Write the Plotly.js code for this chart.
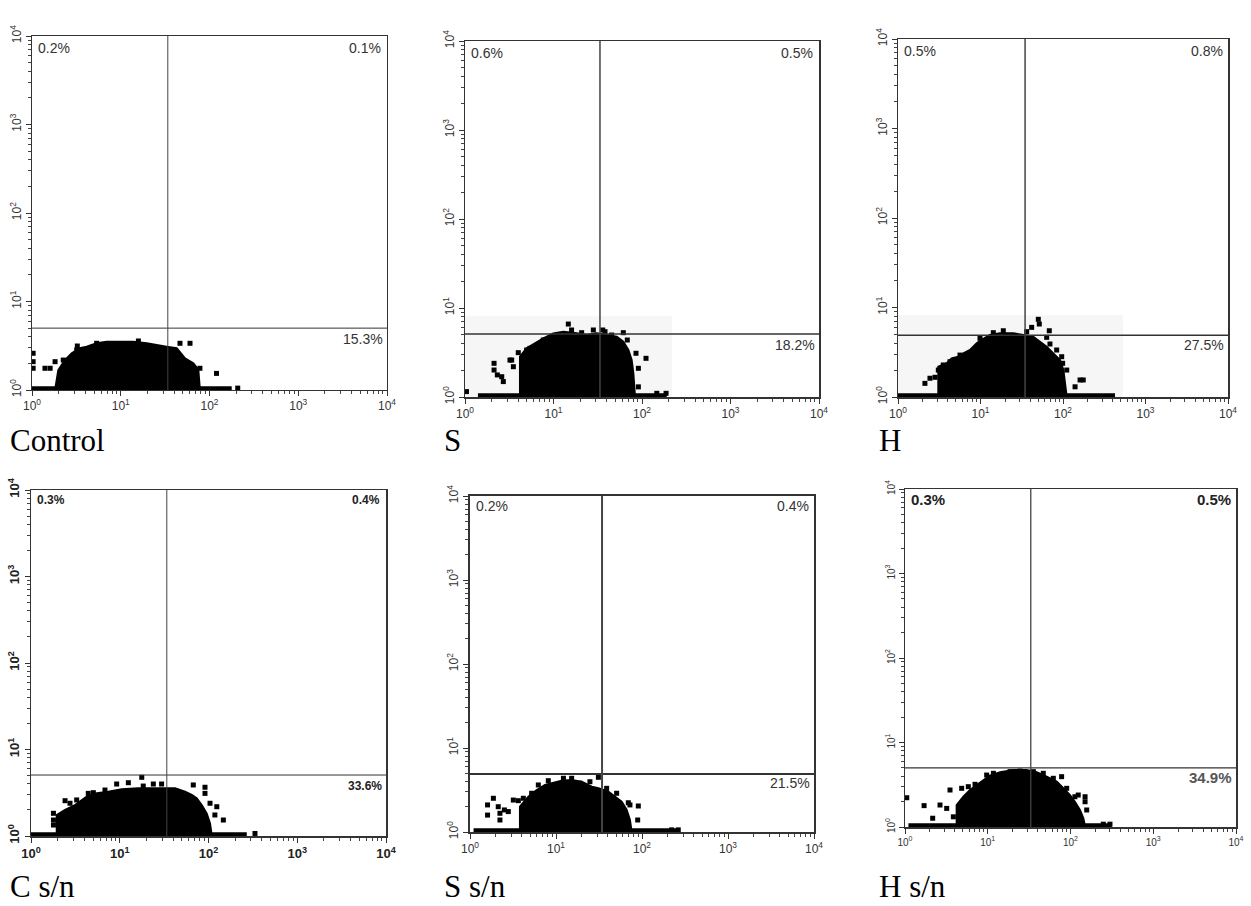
<!DOCTYPE html>
<html><head><meta charset="utf-8">
<script src="https://cdn.plot.ly/plotly-3.0.1.min.js"></script>
<style>html,body{margin:0;padding:0;background:#fff;}#chart{width:1251px;height:906px;}</style>
</head><body><div id="chart"></div>
<script>
// ---------- data ----------
const panelNames = ["Control", "S", "H", "C s/n", "S s/n", "H s/n"];
const labelUL = ["0.2%", "0.6%", "0.5%", "0.3%", "0.2%", "0.3%"];
const labelUR = ["0.1%", "0.5%", "0.8%", "0.4%", "0.4%", "0.5%"];
const labelLR = ["15.3%", "18.2%", "27.5%", "33.6%", "21.5%", "34.9%"];
const gateX = [33.9, 33.5, 34.7, 33.9, 34.3, 33.1];
const gateY = [5.0, 5.1, 4.9, 5.07, 4.9, 5.0];
const baseStartX = [1, 1.4, 1, 1, 1.1, 1.1];
const baseEndX = [178, 190, 427, 270, 277, 314];
const tickVals = [1, 10, 100, 1000, 10000];
const tickText = ["10<sup>0</sup>", "10<sup>1</sup>", "10<sup>2</sup>", "10<sup>3</sup>", "10<sup>4</sup>"];

// light background box visible in panels S and H (x end, y top); null = none
const boxEndX = [null, 218, 533, null, null, null];
const boxTopY = [null, 8.1, 8.2, null, null, null];

// dense event cloud: upper envelope
const ctrlEnvX = [1.82, 1.98, 2.35, 2.8, 3.47, 4.13, 5.35, 6.94, 9.8, 13.8, 19.6, 27.7, 32.9, 42.7, 53, 65.7, 74.8, 78];
const ctrlEnvY = [1.0, 1.68, 2.18, 2.6, 2.96, 3.09, 3.37, 3.52, 3.52, 3.52, 3.37, 3.22, 3.09, 2.96, 2.28, 2.0, 1.7, 1.0];
const sEnvX = [4.18, 4.18, 4.97, 6.18, 7.67, 9.95, 12.9, 18.3, 23.7, 30.8, 39.9, 51.8, 61.5, 70.1, 76.4, 79.8, 83.4];
const sEnvY = [1.0, 2.84, 3.52, 4.01, 4.56, 5.19, 5.42, 5.19, 4.97, 5.19, 4.97, 4.77, 4.19, 3.37, 2.6, 1.85, 1.0];
const hEnvX = [3.08, 3.08, 3.89, 4.47, 5.38, 6.19, 7.46, 8.99, 10.3, 13.0, 17.2, 25, 33, 43.6, 52.6, 63.4, 76.3, 92, 101, 106, 111];
const hEnvY = [1.0, 2.18, 2.38, 2.7, 2.82, 3.07, 3.35, 3.98, 4.34, 4.93, 5.15, 5.15, 4.93, 4.72, 4.15, 3.65, 3.07, 2.59, 2.0, 1.42, 1.0];
const csnEnvX = [1.95, 1.95, 2.42, 3.13, 4.24, 5.26, 7.43, 10.5, 16.2, 27.2, 42, 54.4, 64.7, 73.6, 83.8, 95.4, 104, 109];
const csnEnvY = [1.0, 1.75, 2.0, 2.28, 2.85, 3.11, 3.25, 3.47, 3.56, 3.56, 3.56, 3.25, 2.98, 2.73, 2.28, 1.83, 1.4, 1.0];
const ssnEnvX = [3.81, 3.81, 4.77, 5.96, 7.45, 9.3, 11.6, 15.2, 19.9, 26, 31.1, 40.6, 48.5, 58, 66.4, 72.4, 75.8];
const ssnEnvY = [1.0, 2.0, 2.63, 3.16, 3.63, 3.86, 4.08, 4.16, 3.97, 3.46, 3.31, 3.02, 2.63, 2.3, 1.83, 1.39, 1.0];
const hsnEnvX = [4.21, 4.21, 5.07, 6.1, 7.35, 8.84, 10.6, 14.1, 20.4, 29.5, 39, 51.5, 68.1, 81.9, 98.6, 113, 130, 143, 150];
const hsnEnvY = [1.0, 1.82, 2.28, 2.74, 3.14, 3.6, 4.05, 4.44, 4.73, 4.73, 4.44, 3.94, 3.44, 2.87, 2.39, 1.99, 1.59, 1.27, 1.0];

// scattered single events around the cloud
const ctrlDotX = [1.03, 1.03, 1.03, 1.40, 1.6, 1.82, 2.25, 3.19, 3.24, 5.35, 15.8, 46.5, 60.3, 78, 120, 208];
const ctrlDotY = [2.6, 2.09, 1.76, 1.76, 1.76, 2.09, 2.18, 2.83, 3.14, 3.37, 3.58, 3.37, 3.37, 1.76, 1.54, 1.05];
const sDotX = [2.13, 2.13, 2.32, 2.6, 2.71, 3.22, 3.37, 3.52, 4.0, 4.97, 5.42, 6.73, 7.67, 14.7, 16.0, 20.8, 28.2, 36, 38.2, 45.4, 61.5, 68.2, 85.5, 91, 111, 91, 1.04, 147, 187];
const sDotY = [2.39, 2.01, 1.77, 1.69, 1.49, 2.6, 2.6, 2.19, 3.15, 3.37, 3.52, 3.67, 4.37, 6.6, 5.66, 5.28, 5.66, 5.66, 5.42, 4.97, 5.28, 4.37, 3.1, 2.1, 2.72, 1.3, 1.15, 1.1, 1.1];
const hDotX = [2.12, 2.44, 2.81, 3.08, 3.54, 4.27, 4.91, 5.64, 9.86, 14.3, 18.9, 36.3, 41.7, 50.2, 51.6, 68.2, 63.4, 69.5, 83.8, 96.4, 99, 111, 140, 161, 176];
const hDotY = [1.42, 1.62, 1.66, 2.0, 2.28, 2.48, 2.59, 2.94, 4.53, 5.23, 5.5, 5.37, 6.0, 7.38, 6.54, 5.5, 4.64, 3.91, 3.35, 2.82, 2.38, 2.0, 1.3, 1.55, 1.55];
const csnDotX = [1.79, 1.79, 1.79, 2.03, 2.42, 2.75, 3.27, 4.42, 5.04, 6.82, 9.23, 12.5, 17.7, 18.4, 23.9, 29.6, 67.4, 91.3, 91.3, 104, 124, 147, 118, 334];
const csnDotY = [1.83, 1.53, 1.34, 1.34, 2.56, 2.39, 2.61, 3.11, 3.17, 3.4, 3.99, 4.13, 4.77, 3.78, 3.99, 3.99, 3.89, 3.66, 3.11, 2.39, 2.18, 1.53, 1.75, 1.07];
const ssnDotX = [1.6, 1.6, 1.87, 2.13, 2.23, 2.23, 2.51, 2.79, 3.19, 3.65, 4.17, 5.21, 6.23, 8.14, 8.91, 12.2, 15.2, 19, 24.8, 31.1, 38.8, 50.7, 69.3, 72.4, 90.6, 89.1, 221, 264];
const ssnDotY = [2.1, 1.59, 2.52, 2.0, 1.67, 1.39, 1.83, 1.75, 2.4, 2.36, 2.52, 2.89, 3.63, 4.08, 3.46, 4.36, 4.36, 3.8, 3.97, 4.48, 3.31, 2.89, 2.23, 2.1, 2.04, 1.39, 1.06, 1.06];
const hsnDotX = [1.05, 1.7, 2.16, 2.65, 3.19, 3.5, 3.84, 4.84, 5.82, 7.02, 9.7, 11.7, 18.6, 24.5, 35.6, 46.9, 62, 78.1, 89.9, 113, 124, 150, 150, 157, 249, 300];
const hsnDotY = [2.22, 1.79, 1.27, 1.82, 1.66, 2.74, 1.32, 2.87, 3.0, 3.2, 4.12, 4.32, 4.52, 4.6, 4.52, 4.32, 3.77, 3.94, 2.87, 2.28, 2.39, 2.28, 1.99, 1.59, 1.08, 1.08];

// ---------- layout / styling ----------
const W = 1251, H = 906;
const envXs = [ctrlEnvX, sEnvX, hEnvX, csnEnvX, ssnEnvX, hsnEnvX];
const envYs = [ctrlEnvY, sEnvY, hEnvY, csnEnvY, ssnEnvY, hsnEnvY];
const dotXs = [ctrlDotX, sDotX, hDotX, csnDotX, ssnDotX, hsnDotX];
const dotYs = [ctrlDotY, sDotY, hDotY, csnDotY, ssnDotY, hsnDotY];

// pixel frames [left, top, right, bottom]
const frames = [[32, 36, 387, 390], [465, 41, 819, 397], [898, 39, 1228, 397],
                [31, 490, 386, 836], [470, 496, 814, 832], [905, 489, 1236, 827]];
const titlePos = [[8, 440], [442, 440], [877, 440], [8, 886], [442, 886], [877, 886]];
const tickFont = [
  {size: 12, weight: 'normal', color: '#333'}, {size: 12, weight: 'normal', color: '#333'},
  {size: 12, weight: 'normal', color: '#333'}, {size: 13, weight: 'bold', color: '#222'},
  {size: 12, weight: 'normal', color: '#333'}, {size: 10, weight: 'normal', color: '#333'}];
const pctFont = [
  {size: 14, weight: 'normal', color: '#333'}, {size: 14, weight: 'normal', color: '#333'},
  {size: 14, weight: 'normal', color: '#333'}, {size: 12, weight: 'bold', color: '#222'},
  {size: 14, weight: 'normal', color: '#333'}, {size: 15, weight: 'bold', color: '#222'}];
const lrFont = [null, null, null, null, null, {size: 15, weight: 'bold', color: '#555'}];
const frameWidth = [1, 1.5, 1.5, 1.5, 2, 1.5];
const gateWidth = [1, 1.5, 1.5, 1, 2, 1.3];

const minorVals = [];
for (let e = 0; e < 4; e++) for (let m = 2; m <= 9; m++) minorVals.push(m * Math.pow(10, e));

const traces = [];
const layout = {
  width: W, height: H, margin: {l: 0, r: 0, t: 0, b: 0},
  paper_bgcolor: '#fff', plot_bgcolor: 'rgba(0,0,0,0)', showlegend: false,
  font: {family: 'Liberation Sans, Arial, sans-serif', color: '#333'},
  annotations: []
};

for (let i = 0; i < 6; i++) {
  const n = i === 0 ? '' : String(i + 1);
  const xa = 'x' + n, ya = 'y' + n;
  const f = frames[i];
  const axBase = {
    type: 'log', range: [0, 4], showgrid: false, zeroline: false,
    showline: true, mirror: true, linecolor: '#333', linewidth: frameWidth[i],
    ticks: 'outside', ticklen: 5, tickcolor: '#333', tickwidth: 1,
    tickmode: 'array', tickvals: tickVals, ticktext: tickText,
    tickfont: Object.assign({family: 'Liberation Sans, Arial, sans-serif'}, tickFont[i]),
    minor: {tickmode: 'array', tickvals: minorVals, ticks: 'outside', ticklen: 3, tickcolor: '#444', tickwidth: 1, showgrid: false},
    fixedrange: true
  };
  layout['xaxis' + n] = Object.assign({}, axBase, {
    domain: [f[0] / W, f[2] / W], anchor: ya, tickangle: 0
  });
  layout['yaxis' + n] = Object.assign({}, axBase, {
    domain: [1 - f[3] / H, 1 - f[1] / H], anchor: xa, tickangle: -90
  });

  if (boxEndX[i] !== null) {
    traces.push({x: [1, boxEndX[i], boxEndX[i], 1], y: [1, 1, boxTopY[i], boxTopY[i]],
      xaxis: xa, yaxis: ya, mode: 'lines', fill: 'toself', fillcolor: '#f6f6f6',
      line: {width: 0, color: 'rgba(0,0,0,0)'}, hoverinfo: 'skip'});
  }
  traces.push({x: envXs[i], y: envYs[i], xaxis: xa, yaxis: ya, mode: 'lines',
    fill: 'toself', fillcolor: '#000', line: {color: '#000', width: 2}, hoverinfo: 'skip'});
  traces.push({x: [baseStartX[i], baseEndX[i]], y: [1.035, 1.035], xaxis: xa, yaxis: ya,
    mode: 'lines', line: {color: '#000', width: 5}, hoverinfo: 'skip'});
  traces.push({x: dotXs[i], y: dotYs[i], xaxis: xa, yaxis: ya, mode: 'markers',
    marker: {symbol: 'square', size: 5, color: '#000', line: {width: 0}}, hoverinfo: 'skip'});
  traces.push({x: [1, 10000], y: [gateY[i], gateY[i]], xaxis: xa, yaxis: ya, mode: 'lines',
    line: {color: '#333', width: gateWidth[i]}, hoverinfo: 'skip'});
  traces.push({x: [gateX[i], gateX[i]], y: [1, 10000], xaxis: xa, yaxis: ya, mode: 'lines',
    line: {color: '#444', width: gateWidth[i]}, hoverinfo: 'skip'});

  const pf = Object.assign({family: 'Liberation Sans, Arial, sans-serif'}, pctFont[i]);
  const lf = lrFont[i] ? Object.assign({family: 'Liberation Sans, Arial, sans-serif'}, lrFont[i]) : pf;
  const yTopPx = (i < 3) ? 12 : 10;
  const hpx = f[3] - f[1];
  layout.annotations.push({xref: xa + ' domain', yref: ya + ' domain', x: 0.012, y: 1 - yTopPx / hpx,
    xanchor: 'left', yanchor: 'middle', text: labelUL[i], showarrow: false, font: pf});
  layout.annotations.push({xref: xa + ' domain', yref: ya + ' domain', x: 0.99, y: 1 - yTopPx / hpx,
    xanchor: 'right', yanchor: 'middle', text: labelUR[i], showarrow: false, font: pf});
  layout.annotations.push({xref: xa + ' domain', yref: ya + ' domain', x: 0.995, y: 0.145,
    xanchor: 'right', yanchor: 'middle', text: labelLR[i], showarrow: false, font: lf});

  layout.annotations.push({xref: 'paper', yref: 'paper', x: titlePos[i][0] / W, y: 1 - titlePos[i][1] / H,
    xanchor: 'left', yanchor: 'middle', text: panelNames[i], showarrow: false,
    font: {family: 'Liberation Serif, Times New Roman, serif', size: 31, color: '#000'}});
}

Plotly.newPlot('chart', traces, layout, {staticPlot: true, displayModeBar: false});
</script>
</body></html>
